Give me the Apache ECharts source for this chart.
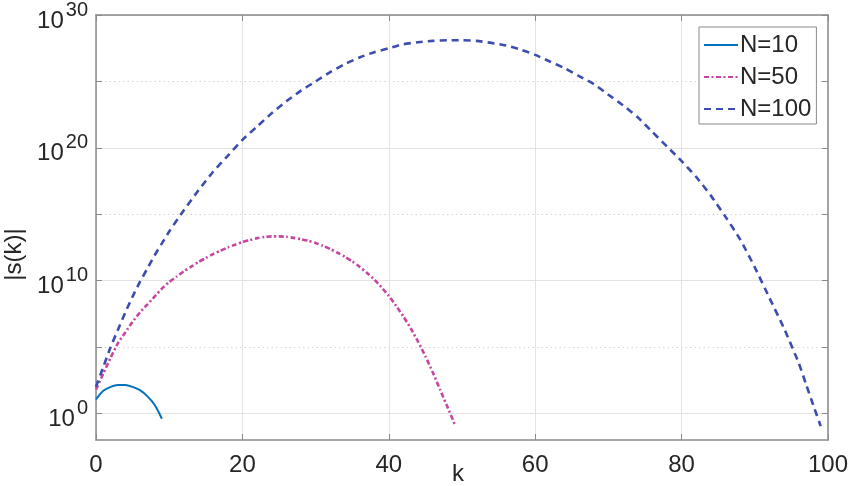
<!DOCTYPE html>
<html>
<head>
<meta charset="utf-8">
<script src="https://cdn.jsdelivr.net/npm/echarts@6/dist/echarts.min.js"></script>
<style>
html,body{margin:0;padding:0;background:#fff;}
#chart{width:852px;height:486px;}
</style>
</head>
<body>
<div id="chart"></div>
<script>
// |s(k)|
const k10 = [0,1,2,3,4,5,6,7,8,9];
const s10 = [11.2, 50.1, 100, 141, 141, 100, 56.2, 20.0, 4.47, 0.398];

const k50 = [0,1,2,3,4,5,6,7,8,9,10,11,12,13,14,15,16,17,18,19,20,21,22,23,24,25,26,27,28,29,30,31,32,33,34,35,36,37,38,39,40,41,42,43,44,45,46,47,48,49];
const s50 = [63.1, 1.0e3, 1.58e4, 2.0e5, 1.26e6, 7.94e6, 3.98e7, 1.58e8, 6.31e8, 2.51e9,
  7.94e9, 2.0e10, 5.01e10, 1.12e11, 2.51e11, 5.01e11, 1.0e12, 1.78e12, 3.16e12, 5.01e12,
  7.94e12, 1.12e13, 1.58e13, 1.91e13, 2.14e13, 2.14e13, 2.0e13, 1.66e13, 1.32e13, 1.0e13,
  6.76e12, 4.17e12, 2.40e12, 1.26e12, 6.31e11, 2.82e11, 1.12e11, 3.98e10, 1.26e10, 3.16e9,
  7.08e8, 1.26e8, 2.0e7, 2.51e6, 2.51e5, 2.0e4, 1.26e3, 63.1, 3.16, 0.158];

const k100 = [0,1,2,3,4,5,6,7,8,9,10,12,14,16,18,20,22,24,26,28,30,32,34,36,38,40,42,44,46,48,50,52,54,56,58,60,62,64,66,68,70,72,74,76,78,80,82,84,86,88,90,92,94,96,97,98,99];
const s100 = [100, 3.16e3, 1.0e5, 2.0e6, 3.98e7, 6.31e8, 7.94e9, 7.94e10, 7.94e11, 6.31e12, 5.01e13,
  2.0e15, 6.31e16, 1.58e18, 2.51e19, 3.98e20, 3.98e21, 3.98e22, 3.16e23, 2.0e24, 1.0e25,
  5.01e25, 2.0e26, 6.31e26, 1.58e27, 3.16e27, 6.31e27, 8.91e27, 1.12e28, 1.26e28, 1.26e28,
  1.12e28, 7.94e27, 5.01e27, 2.51e27, 1.0e27, 3.16e26, 1.0e26, 2.51e25, 6.31e24, 1.0e24,
  1.58e23, 2.0e22, 1.58e21, 1.26e20, 1.0e19, 6.31e17, 2.51e16, 6.31e14, 1.26e13, 1.0e11,
  5.01e8, 2.51e6, 6.31e3, 158, 3.98, 0.112];

const seriesNames = ['N=10', 'N=50', 'N=100'];
const yExpTicks = [0, 5, 10, 15, 20, 25, 30];      // decades with ticks
const yExpLabels = [0, 10, 20, 30];                 // decades with labels
const yExpMin = -2, yExpMax = 30;

const toPairs = (ks, vs) => ks.map((k, i) => [k, Math.log10(vs[i])]);

const textColor = '#262626';
const axisColor = '#8a8a8a';
const font = 'Liberation Sans, Arial, Helvetica, sans-serif';

const chart = echarts.init(document.getElementById('chart'), null, {renderer: 'canvas'});

const baseX = {
  type: 'value', min: 0, max: 100, interval: 20,
  axisLine: {show: true, onZero: false, lineStyle: {color: axisColor, width: 1.5}},
  axisTick: {show: true, inside: true, length: 6, lineStyle: {color: axisColor, width: 1}},
};
const baseY = {
  type: 'value', min: yExpMin, max: yExpMax,
  axisLine: {show: true, onZero: false, lineStyle: {color: axisColor, width: 1.5}},
  axisTick: {show: true, inside: true, length: 6, customValues: yExpTicks, lineStyle: {color: axisColor, width: 1}},
};

chart.setOption({
  backgroundColor: '#ffffff',
  animation: false,
  grid: {left: 96, right: 24, top: 15, bottom: 46, containLabel: false, outerBoundsMode: 'none'},
  legend: {
    data: seriesNames,
    orient: 'vertical',
    left: 699, top: 27,
    padding: [6, 5, 3, 4],
    itemGap: 8,
    itemWidth: 34, itemHeight: 24,
    borderColor: '#8a8a8a', borderWidth: 1,
    backgroundColor: '#ffffff',
    itemStyle: {opacity: 0},
    textStyle: {fontFamily: font, fontSize: 24, color: textColor, lineHeight: 24, padding: [0, 0, 0, -3]}
  },
  xAxis: [
    Object.assign({}, baseX, {
      position: 'bottom',
      name: 'k', nameLocation: 'middle', nameGap: 22, nameMoveOverlap: false,
      nameTextStyle: {fontFamily: font, fontSize: 24, color: textColor, verticalAlign: 'top', padding: [0, 8, 0, 0]},
      axisLabel: {show: true, margin: 13, fontFamily: font, fontSize: 24, color: textColor},
      splitLine: {show: true, lineStyle: {color: '#e3e3e3', width: 1}}
    }),
    Object.assign({}, baseX, {
      position: 'top',
      axisLabel: {show: false},
      splitLine: {show: false}
    })
  ],
  yAxis: [
    Object.assign({}, baseY, {
      position: 'left',
      name: '|s(k)|', nameLocation: 'middle', nameGap: 58, nameRotate: 90,
      nameTextStyle: {fontFamily: font, fontSize: 24, color: textColor, padding: [0, 54, 0, 0]},
      axisLabel: {
        show: true, margin: 8, customValues: yExpLabels,
        fontFamily: font, color: textColor,
        formatter: v => '{b|10}{s|' + v + '}',
        rich: {
          b: {fontFamily: font, fontSize: 24, color: textColor, padding: [12, 0, 0, 0]},
          s: {fontFamily: font, fontSize: 20, color: textColor, padding: [0, 0, 10, 2]}
        }
      },
      splitLine: {show: true, lineStyle: {color: ['#e3e3e3', 'rgba(0,0,0,0)'], width: 1}}
    }),
    Object.assign({}, baseY, {
      position: 'right',
      axisLabel: {show: false},
      splitLine: {show: true, lineStyle: {color: ['rgba(0,0,0,0)', '#d6d6d6'], width: 1, type: [1.5, 3]}}
    })
  ],
  series: [
    {
      name: seriesNames[0], type: 'line', data: toPairs(k10, s10),
      symbol: 'none', smooth: 0.3, z: 3,
      lineStyle: {color: '#0072BD', width: 2, type: 'solid'},
      itemStyle: {color: '#0072BD'}
    },
    {
      name: seriesNames[1], type: 'line', data: toPairs(k50, s50),
      symbol: 'none', smooth: 0.2, z: 3,
      lineStyle: {color: '#C6469F', width: 2.6, type: [5, 2.5, 2, 2.5]},
      itemStyle: {color: '#C6469F'}
    },
    {
      name: seriesNames[2], type: 'line', data: toPairs(k100, s100),
      symbol: 'none', smooth: 0.2, z: 3,
      lineStyle: {color: '#3D4DAF', width: 2.6, type: [7, 5]},
      itemStyle: {color: '#3D4DAF'}
    }
  ]
});
</script>
</body>
</html>
